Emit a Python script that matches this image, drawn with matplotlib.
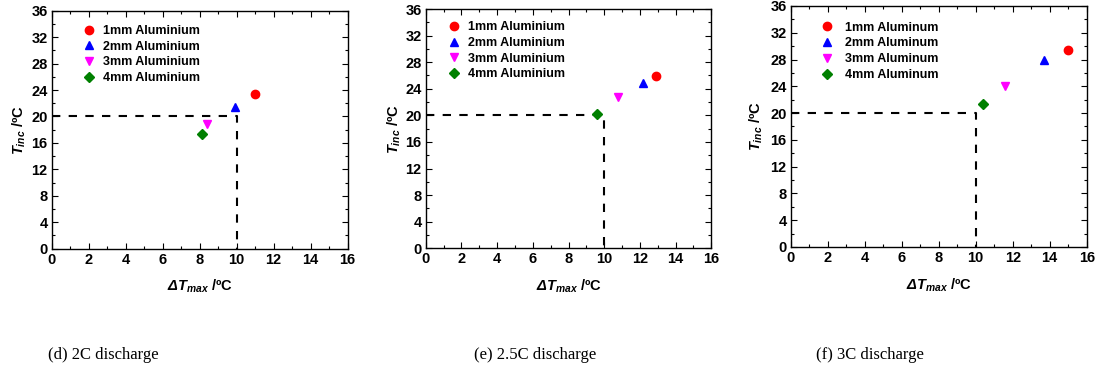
import matplotlib
matplotlib.use("Agg")
import matplotlib.pyplot as plt
from matplotlib.ticker import MultipleLocator

plt.rcParams['font.family'] = ['Liberation Sans', 'DejaVu Sans']
plt.rcParams['font.weight'] = 'bold'
plt.rcParams['mathtext.fontset'] = 'custom'
plt.rcParams['mathtext.it'] = 'Liberation Sans:italic:bold'
plt.rcParams['mathtext.sf'] = 'Liberation Sans:italic:bold'
plt.rcParams['mathtext.rm'] = 'Liberation Sans:bold'
plt.rcParams['mathtext.bf'] = 'Liberation Sans:bold'

# ---- data ----
captions = ["(d) 2C discharge", "(e) 2.5C discharge", "(f) 3C discharge"]
labels_d = ["1mm Aluminium", "2mm Aluminium", "3mm Aluminium", "4mm Aluminium"]
labels_e = ["1mm Aluminium", "2mm Aluminium", "3mm Aluminium", "4mm Aluminium"]
labels_f = ["1mm Aluminum", "2mm Aluminum", "3mm Aluminum", "4mm Aluminum"]

dT_2C = [11.0, 9.9, 8.4, 8.1]
Tinc_2C = [23.4, 21.4, 18.8, 17.3]
dT_25C = [12.9, 12.2, 10.8, 9.6]
Tinc_25C = [25.9, 24.8, 22.7, 20.2]
dT_3C = [15.0, 13.7, 11.6, 10.4]
Tinc_3C = [29.4, 27.9, 24.1, 21.4]

limit_dT = 10
limit_Tinc = 20

markers = ['o', '^', 'v', 'D']
colors = ['#ff0000', '#0000ff', '#ff00ff', '#008000']
msizes = [6, 6, 6, 5]

fig = plt.figure(figsize=(10.97, 3.74), dpi=100)

axes_pos = [
    [0.0471, 0.335, 0.2698, 0.6364],
    [0.3881, 0.3361, 0.2603, 0.6398],
    [0.7208, 0.3396, 0.2698, 0.6444],
]
datasets = [(dT_2C, Tinc_2C, labels_d), (dT_25C, Tinc_25C, labels_e), (dT_3C, Tinc_3C, labels_f)]
legend_anchor = [(0.10, 0.94), (0.072, 0.949), (0.098, 0.935)]
ylabel_x = [-0.08, -0.079, -0.087]
handle_pad = [0.5, 0.5, 0.85]
cap_x = [103 / 1097, 535 / 1097, 870 / 1097]

for i, (pos, (xs, ys, labs)) in enumerate(zip(axes_pos, datasets)):
    ax = fig.add_axes(pos)
    ax.plot([0, limit_dT, limit_dT], [limit_Tinc, limit_Tinc, 0], color='black',
            lw=1.5, ls=(0, (4, 4)), zorder=1)
    for x, y, m, c, ms, lab in zip(xs, ys, markers, colors, msizes, labs):
        ax.plot([x], [y], ls='none', marker=m, color=c, ms=ms, label=lab, zorder=3)
    ax.set_xlim(0, 16)
    ax.set_ylim(0, 36)
    ax.xaxis.set_major_locator(MultipleLocator(2))
    ax.xaxis.set_minor_locator(MultipleLocator(1))
    ax.yaxis.set_major_locator(MultipleLocator(4))
    ax.yaxis.set_minor_locator(MultipleLocator(2))
    ax.tick_params(which='both', direction='in', top=True, right=True, labelsize=10.5, pad=3)
    ax.tick_params(which='major', length=4, width=0.8)
    ax.tick_params(which='minor', length=2, width=0.8)
    for lbl in ax.get_xticklabels() + ax.get_yticklabels():
        lbl.set_fontweight('bold')
    for sp in ax.spines.values():
        sp.set_linewidth(1.0)
    ax.set_xlabel(r'$\mathsf{Δ}\mathit{T}_{\mathit{max}}$ /ºC', fontsize=10.5, fontweight='bold', labelpad=8)
    ax.set_ylabel(r'$\mathit{T}_{\mathit{inc}}$ /ºC', fontsize=10.5, fontweight='bold')
    ax.yaxis.set_label_coords(ylabel_x[i], 0.5)
    leg = ax.legend(loc='upper left', bbox_to_anchor=legend_anchor[i], frameon=False,
                    fontsize=9, handletextpad=handle_pad[i], labelspacing=0.3, borderaxespad=0,
                    handlelength=1.2, borderpad=0)
    for t in leg.get_texts():
        t.set_fontweight('bold')
    fig.text(cap_x[i], 1 - 355 / 374, captions[i], ha='center', va='center',
             fontsize=12, family='Liberation Serif', fontweight='normal')

fig.savefig('out.png', dpi=100)
